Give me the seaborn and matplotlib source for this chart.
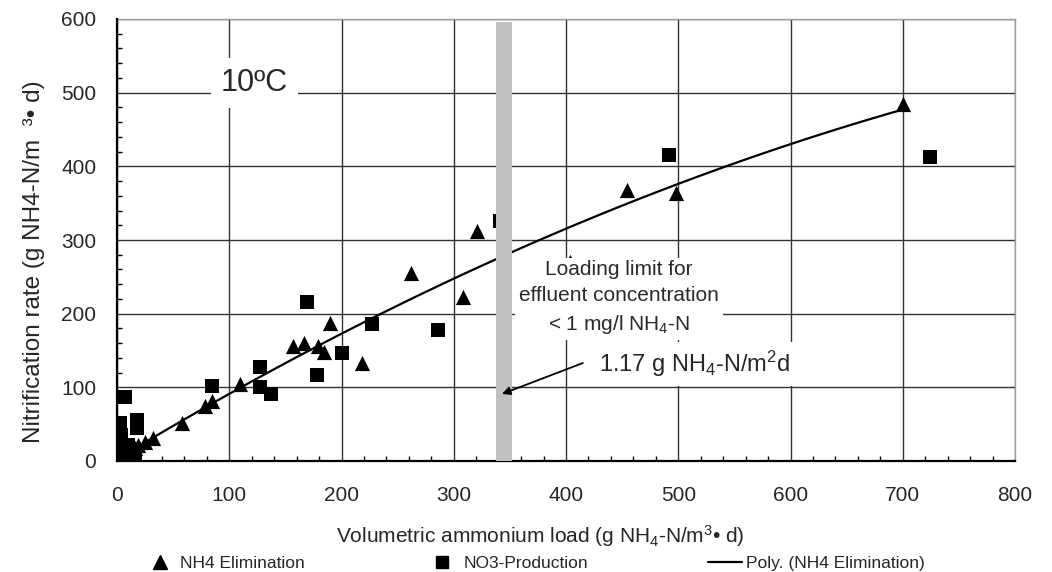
import numpy as np
import pandas as pd
import matplotlib
matplotlib.use('Agg')
import matplotlib.pyplot as plt
import seaborn as sns
from matplotlib.ticker import MultipleLocator
from matplotlib.lines import Line2D

# ---- data ----
nh4_load = [1, 3, 5, 7, 8, 10, 13, 16, 19, 25, 32, 58, 78, 85, 110, 157, 167,
            179, 184, 190, 218, 262, 308, 321, 404, 454, 498, 700]
nh4_elim = [0, 2, 5, 1, 8, 12, 15, 18, 22, 26, 31, 52, 75, 81, 104, 156, 160,
            156, 148, 187, 133, 255, 222, 312, 270, 368, 364, 484]

no3_load = [7, 3, 18, 18, 4, 1, 3, 7, 10, 16, 13, 5, 2, 85, 127, 127, 137, 169,
            178, 200, 227, 286, 341, 492, 724]
no3_prod = [87, 51, 56, 45, 35, 24, 28, 18, 22, 4, 1, 10, 5, 102, 127, 100, 91,
            216, 117, 147, 186, 178, 326, 415, 412]

limit_band = [338, 352]
series_labels = ["NH4 Elimination", "NO3-Production", "Poly. (NH4 Elimination)"]
x_ticks = [0, 100, 200, 300, 400, 500, 600, 700, 800]
y_ticks = [0, 100, 200, 300, 400, 500, 600]

sns.set_style("white")
plt.rcParams['font.family'] = ['Liberation Sans', 'DejaVu Sans']
plt.rcParams['mathtext.fontset'] = 'custom'
plt.rcParams['mathtext.rm'] = 'Liberation Sans'
plt.rcParams['mathtext.it'] = 'Liberation Sans:italic'
plt.rcParams['mathtext.bf'] = 'Liberation Sans:bold'

fig = plt.figure(figsize=(10.52, 5.72), dpi=100)
ax = fig.add_axes([117/1052, 1-461/572, (1015-117)/1052, (461-19)/572])

df_nh4 = pd.DataFrame({'load': nh4_load, 'rate': nh4_elim})
df_no3 = pd.DataFrame({'load': no3_load, 'rate': no3_prod})

sns.scatterplot(data=df_nh4, x='load', y='rate', marker='^', s=120,
                color='black', edgecolor='black', linewidth=0, ax=ax,
                zorder=3, legend=False)
sns.scatterplot(data=df_no3, x='load', y='rate', marker='s', s=90,
                color='black', edgecolor='black', linewidth=0, ax=ax,
                zorder=3, legend=False)
sns.regplot(data=df_nh4, x='load', y='rate', order=2, ci=None, scatter=False,
            color='black', line_kws=dict(lw=1.6, zorder=2.8), ax=ax)

ax.axvspan(limit_band[0], limit_band[1], ymin=0, ymax=0.994,
           color='#c0c0c0', lw=0, zorder=6.5)

ax.set_xlim(0, 800)
ax.set_ylim(0, 600)
ax.set_xticks(x_ticks)
ax.set_yticks(y_ticks)
ax.xaxis.set_minor_locator(MultipleLocator(20))
ax.yaxis.set_minor_locator(MultipleLocator(20))
ax.grid(True, which='major', color='#333333', lw=1.0, zorder=1)
ax.set_axisbelow(True)

for s in ['left', 'bottom']:
    ax.spines[s].set_color('black')
    ax.spines[s].set_linewidth(1.6)
    ax.spines[s].set_zorder(5)
for s in ['top', 'right']:
    ax.spines[s].set_color('#a0a0a0')
    ax.spines[s].set_linewidth(1.0)

ax.tick_params(axis='both', which='major', direction='out', length=6,
               width=1.2, color='black')
ax.tick_params(axis='both', which='minor', direction='in', length=3.5,
               width=1.0, color='black')
ax.tick_params(axis='x', which='major', labelsize=15, pad=12)
ax.tick_params(axis='y', which='major', labelsize=15, pad=9)
ax.tick_params(axis='x', which='minor', bottom=True)
ax.tick_params(axis='y', which='minor', left=True)

ax.set_xlabel(r"Volumetric ammonium load (g NH$_4$-N/m$^3$• d)", fontsize=15)
ax.xaxis.set_label_coords((540-117)/898, -(523-461)/442)
ax.set_ylabel("Nitrification rate (g NH4-N/m  ³• d)", fontsize=17.5)
ax.yaxis.set_label_coords((45-117)/898, 0.452)

ax.text(122.5, 513, "10ºC", fontsize=22, ha='center', va='center',
        bbox=dict(facecolor='white', edgecolor='none', pad=7), zorder=6)
ax.text(447, 221, "Loading limit for\neffluent concentration\n< 1 mg/l NH$_4$-N",
        fontsize=15, color='#2a2a2a', ha='center', va='center',
        linespacing=1.45, multialignment='center',
        bbox=dict(facecolor='white', edgecolor='none', pad=3), zorder=6)
ax.text(515, 132, r"1.17 g NH$_4$-N/m$^2$d", fontsize=17, ha='center',
        va='center', bbox=dict(facecolor='white', edgecolor='none', pad=5),
        zorder=6)
ax.annotate("", xy=(343, 91), xytext=(415, 133),
            arrowprops=dict(arrowstyle='-|>', color='black', lw=1.3,
                            mutation_scale=12, shrinkA=0, shrinkB=0),
            zorder=7)

handles = [Line2D([], [], marker='^', color='black', ls='none', markersize=10),
           Line2D([], [], marker='s', color='black', ls='none', markersize=9),
           Line2D([], [], color='black', lw=1.6)]
fig.legend(handles, series_labels, loc='center',
           bbox_to_anchor=(0.507, 1-563/572), ncol=3, frameon=False,
           fontsize=12.5, handlelength=2.0, handletextpad=0.2,
           columnspacing=6.9, borderpad=0)

fig.savefig('out.png', dpi=100)
